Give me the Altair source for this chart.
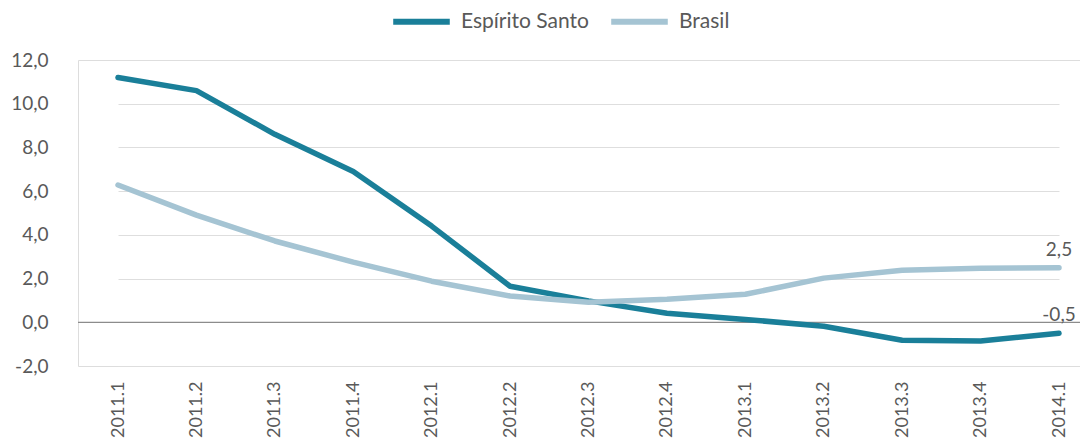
import altair as alt
import pandas as pd

periods = ["2011.1", "2011.2", "2011.3", "2011.4", "2012.1", "2012.2", "2012.3",
           "2012.4", "2013.1", "2013.2", "2013.3", "2013.4", "2014.1"]
es_values = [11.2, 10.6, 8.6, 6.9, 4.4, 1.65, 0.98, 0.41, 0.13, -0.18, -0.82, -0.86, -0.5]
br_values = [6.28, 4.9, 3.72, 2.75, 1.88, 1.2, 0.92, 1.05, 1.28, 2.02, 2.38, 2.47, 2.5]
series_names = ["Espírito Santo", "Brasil"]
series_colors = ["#1a7f99", "#a5c4d3"]

rows = []
for p, v in zip(periods, es_values):
    rows.append({"periodo": p, "serie": series_names[0], "valor": v})
for p, v in zip(periods, br_values):
    rows.append({"periodo": p, "serie": series_names[1], "valor": v})
df = pd.DataFrame(rows)

FONT = "Lato"
LABEL_COLOR = "#595959"
XSCALE = alt.Scale(type="point", range=[40, 981], padding=0)
YSCALE = alt.Scale(domain=[-2, 12], nice=False, zero=False)

x = alt.X("periodo:O", sort=periods, title=None, scale=XSCALE,
          axis=alt.Axis(labelAngle=-90, domain=False, ticks=False, labelPadding=15,
                        labelFontSize=18, labelColor=LABEL_COLOR, labelFont=FONT))
y = alt.Y("valor:Q", title=None, scale=YSCALE,
          axis=alt.Axis(values=[-2, 0, 2, 4, 6, 8, 10, 12], domain=False, ticks=False,
                        labelExpr="replace(replace(format(datum.value, '.1f'), '.', ','), '\u2212', '-')",
                        labelFontSize=19, labelColor=LABEL_COLOR, labelFont=FONT,
                        labelPadding=30, gridColor="#dedede", gridWidth=1))

color = alt.Color("serie:N", sort=series_names,
                  scale=alt.Scale(domain=series_names, range=series_colors),
                  legend=alt.Legend(title=None, orient="none", direction="horizontal",
                                    legendX=312, legendY=-70,
                                    symbolType="stroke", symbolSize=3200,
                                    symbolStrokeWidth=6, labelFontSize=21,
                                    labelFont=FONT, labelColor=LABEL_COLOR,
                                    columnPadding=10, labelOffset=8))

zero = alt.Chart(pd.DataFrame({"z": [0]})).mark_rule(color="#8c8c8c", strokeWidth=1.3).encode(
    y=alt.Y("z:Q", scale=YSCALE)
)

lines = alt.Chart(df).mark_line(strokeWidth=5.5, strokeCap="round", strokeJoin="round").encode(
    x=x, y=y, color=color
)

last = df[df["periodo"] == periods[-1]]
labels = alt.Chart(last).mark_text(fontSize=19, font=FONT, color=LABEL_COLOR, dy=-18).encode(
    x=alt.X("periodo:O", sort=periods, scale=XSCALE),
    y=alt.Y("valor:Q", scale=YSCALE),
    text="txt:N"
).transform_calculate(txt="replace(replace(format(datum.valor, '.1f'), '.', ','), '\u2212', '-')")

chart = alt.layer(zero, lines, labels).properties(
    width=1002, height=306,
    autosize=alt.AutoSizeParams(type="none"),
    padding={"left": 70, "top": 52, "right": 0, "bottom": 74},
).configure_view(stroke=None).configure(background="white")

chart.save("out.html", embed_options={"renderer": "svg", "actions": False})
